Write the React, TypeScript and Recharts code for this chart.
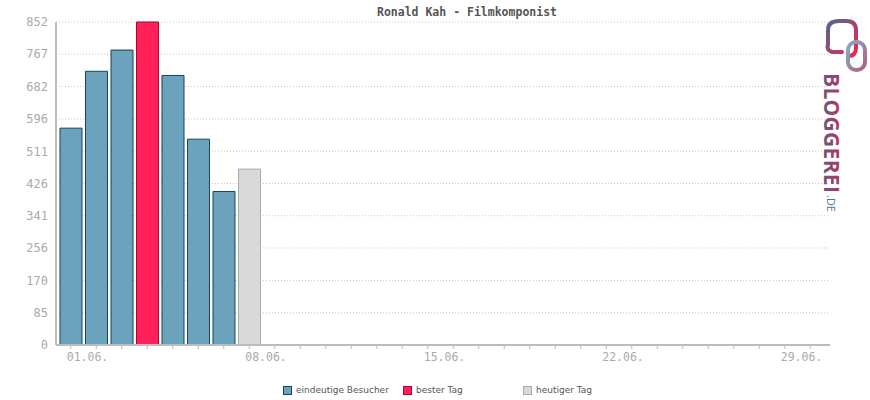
import { Bar, BarChart, CartesianGrid, Cell, XAxis, YAxis } from "recharts";

const days = Array.from({ length: 30 }, (_, i) => `${String(i + 1).padStart(2, "0")}.06.`);
const visitors: (number | null)[] = [572, 722, 778, 852, 711, 543, 405, 464];
const yTicks = [0, 85, 170, 256, 341, 426, 511, 596, 682, 767, 852];
const labeledDays = ["01.06.", "08.06.", "15.06.", "22.06.", "29.06."];
const bestIndex = 3;
const todayIndex = 7;

const legendItems = [
  { label: "eindeutige Besucher", fill: "#6aa3bb", stroke: "#16445a" },
  { label: "bester Tag", fill: "#ff2157", stroke: "#b0002e" },
  { label: "heutiger Tag", fill: "#d9d9d9", stroke: "#aaaaaa" },
];

const chartData = days.map((day, i) => ({ day, value: visitors[i] ?? null }));

const mono = "'DejaVu Sans Mono', monospace";

function DayTick(props: any) {
  const { x, y, payload } = props;
  if (!labeledDays.includes(payload.value)) return null;
  return (
    <text x={x - 4} y={y + 10} fontFamily={mono} fontSize={11.5} fill="#aaa" textAnchor="start">
      {payload.value}
    </text>
  );
}

function barColors(i: number) {
  if (i === bestIndex) return legendItems[1];
  if (i === todayIndex) return legendItems[2];
  return legendItems[0];
}

function Logo() {
  return (
    <svg width={60} height={220} style={{ position: "absolute", left: 812, top: 0 }}>
      <defs>
        <linearGradient id="logoText" x1="0" y1="0" x2="0" y2="1">
          <stop offset="0%" stopColor="#d6245a" />
          <stop offset="100%" stopColor="#4f6485" />
        </linearGradient>
        <linearGradient id="ring1" x1="0" y1="0" x2="1" y2="1">
          <stop offset="0%" stopColor="#4d6a8c" />
          <stop offset="100%" stopColor="#f0234f" />
        </linearGradient>
        <linearGradient id="ring2" x1="0" y1="0" x2="1" y2="1">
          <stop offset="0%" stopColor="#7fb0c4" />
          <stop offset="100%" stopColor="#b06080" />
        </linearGradient>
      </defs>
      <path d="M 30 52 L 20 52 Q 14 50 16 44 L 16 30 Q 16 21 27 21 L 34 21 Q 44 21 44 30 L 44 48 Q 44 56 36 56"
        fill="none" stroke="url(#ring1)" strokeWidth={4} strokeLinecap="round" />
      <rect x={36} y={42} width={17} height={28} rx={8} fill="none" stroke="url(#ring2)" strokeWidth={4} />
      <text transform="translate(12,73) rotate(90)" fontFamily="'Open Sans', sans-serif" fontWeight={700}
        fontSize={21} fill="url(#logoText)" letterSpacing={0.3}>
        BLOGGEREI
      </text>
      <text transform="translate(15,195) rotate(90)" fontFamily="'Open Sans', sans-serif"
        fontSize={11} fill="#4f7a9a">
        .DE
      </text>
    </svg>
  );
}

export default function App() {
  return (
    <div style={{ position: "absolute", left: 0, top: 0, width: 870, height: 400, background: "#fff" }}>
      <BarChart
        width={870}
        height={400}
        data={chartData}
        margin={{ top: 22, right: 40, bottom: 25, left: 0 }}
        barCategoryGap={2}
      >
        <text x={467} y={16} textAnchor="middle" fontFamily={mono} fontSize={11.5} fontWeight={700} fill="#555">
          Ronald Kah - Filmkomponist
        </text>
        <CartesianGrid vertical={false} stroke="#c8c8c8" strokeDasharray="1 2" />
        <XAxis
          dataKey="day"
          interval={0}
          height={30}
          padding={{ left: 2, right: 7 }}
          axisLine={{ stroke: "#bbb", strokeWidth: 2 }}
          tickLine={{ stroke: "#bbb" }}
          tickSize={4}
          tick={<DayTick />}
        />
        <YAxis
          width={56}
          domain={[0, 852]}
          ticks={yTicks}
          interval={0}
          axisLine={{ stroke: "#bbb", strokeWidth: 2 }}
          tickLine={false}
          tick={{ fontFamily: mono, fontSize: 12, fill: "#aaa" }}
        />
        <Bar dataKey="value" isAnimationActive={false}>
          {chartData.map((_, i) => (
            <Cell key={i} fill={barColors(i).fill} stroke={barColors(i).stroke} strokeWidth={1} />
          ))}
        </Bar>
      </BarChart>
      <div style={{ position: "absolute", top: 385, left: 283, display: "flex", fontFamily: "'DejaVu Sans', sans-serif", fontSize: 9, color: "#555" }}>
        {legendItems.map((item) => (
          <div key={item.label} style={{ display: "flex", alignItems: "center", width: 120 }}>
            <span style={{ width: 7, height: 7, background: item.fill, border: `1px solid ${item.stroke}`, marginRight: 4 }} />
            {item.label}
          </div>
        ))}
      </div>
      <Logo />
    </div>
  );
}
